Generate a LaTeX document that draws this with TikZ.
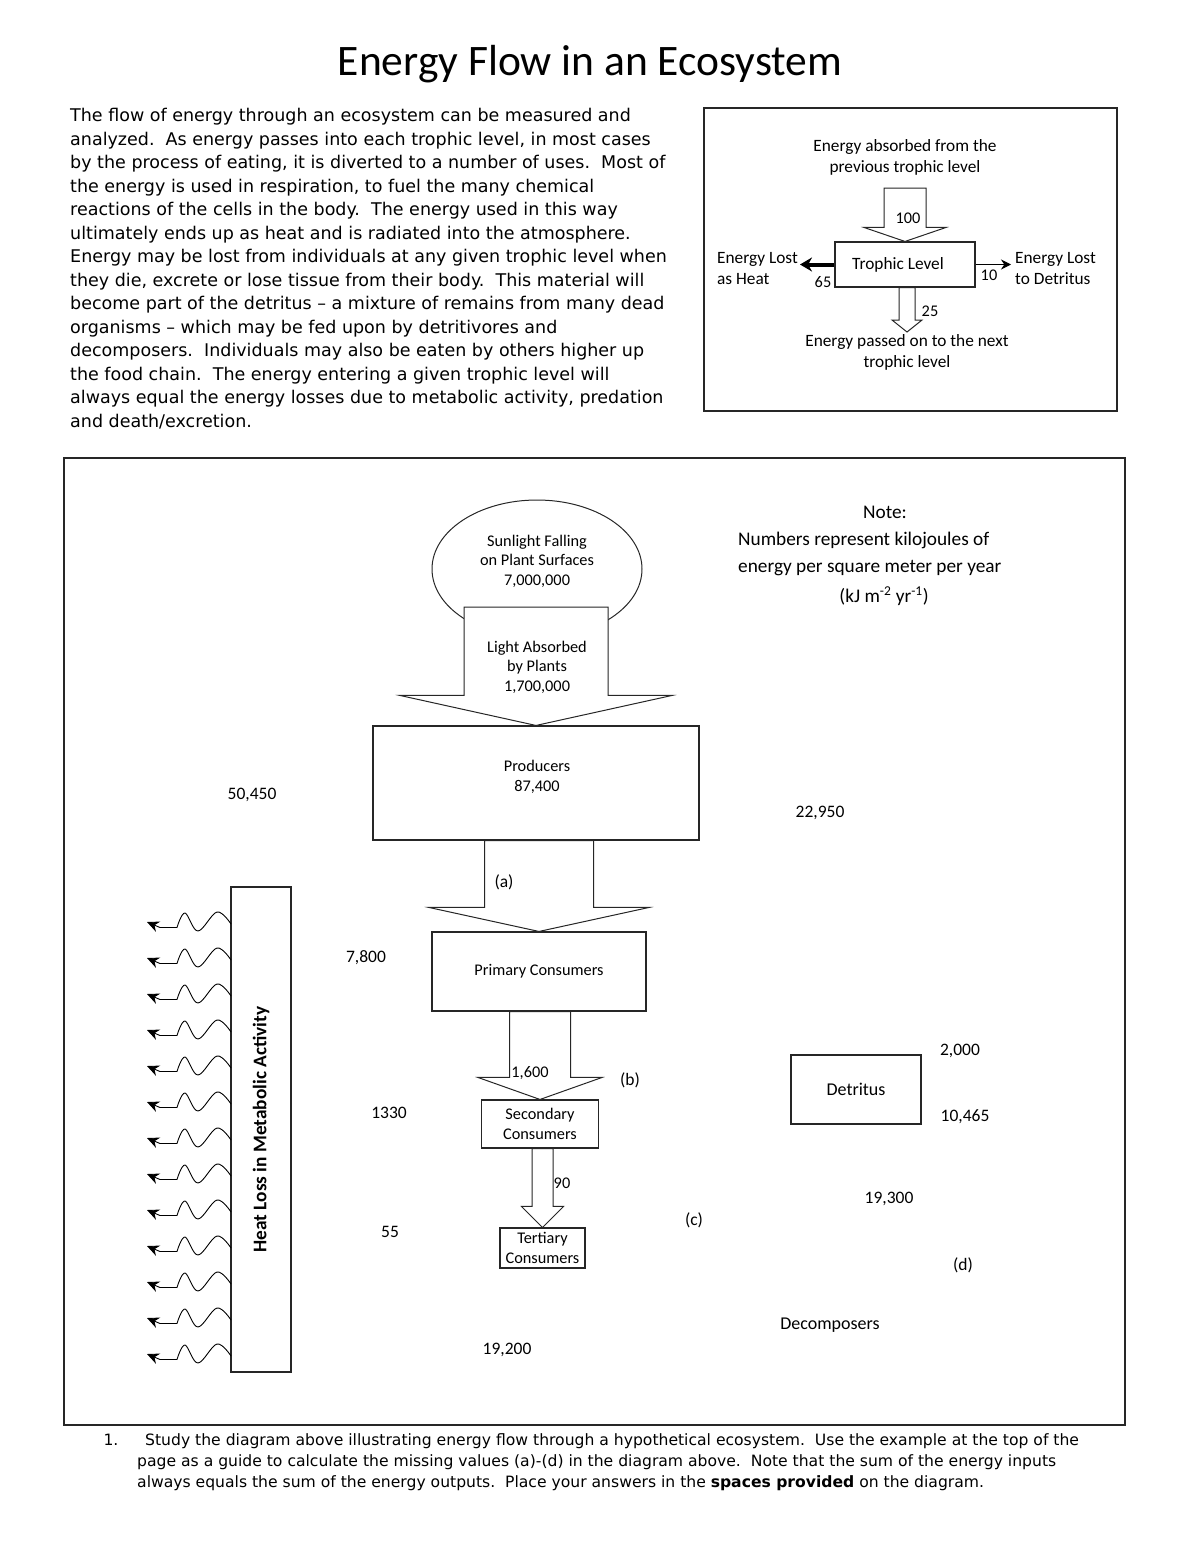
\documentclass[tikz,border=0pt]{standalone}
\usepackage{fontspec}
\setmainfont{Carlito}
\newfontfamily\versans{DejaVu Sans}
\usetikzlibrary{arrows.meta,calc,shapes.geometric}
\newcommand{\SetSize}[2]{\fontsize{#1}{#2}\selectfont}
\newcommand{\FlowArrow}[5]{%
  % #1 top point, #2 tip point, #3 half shaft, #4 half head, #5 head length
  \draw[flow] let \p1=(#1), \p2=(#2) in
    (\x2-#3,\y1) -- (\x2-#3,\y2+#5) -- (\x2-#4,\y2+#5) -- (\p2)
    -- (\x2+#4,\y2+#5) -- (\x2+#3,\y2+#5) -- (\x2+#3,\y1) -- cycle;
}

\begin{document}
\begin{tikzpicture}[
  x=1pt,y=-1pt,
  frame/.style={draw=black!85,line width=1.4pt,inner sep=0pt},
  box/.style={draw=black!85,line width=1.1pt,inner sep=0pt,align=center,font=\SetSize{16.3}{19.5}},
  lbl/.style={inner sep=0pt,align=center,font=\SetSize{16.3}{19.5}},
  exlbl/.style={inner sep=0pt,align=center,font=\SetSize{17.3}{21}},
  num/.style={inner sep=0pt,font=\SetSize{17.5}{20}},
  note/.style={inner sep=0pt,align=left,font=\SetSize{19.3}{27}},
  flow/.style={draw=black!85,line width=1pt,fill=white,line join=miter},
  wave/.style={line width=0.9pt},
  heatout/.style={line width=0.9pt,-{Stealth[length=12pt,width=11pt]}}
]
\useasboundingbox (0,0) rectangle (1200,1553);

% Title and introduction
\node[inner sep=0pt,font=\SetSize{43.5}{48}] (title) at (590,64) {Energy Flow in an Ecosystem};
\node[inner sep=0pt,anchor=north west,align=left,font=\versans\SetSize{17.5}{23.5}] (intro) at (70,108) {%
The flow of energy through an ecosystem can be measured and\\
analyzed.\ \ As energy passes into each trophic level, in most cases\\
by the process of eating, it is diverted to a number of uses.\ \ Most of\\
the energy is used in respiration, to fuel the many chemical\\
reactions of the cells in the body.\ \ The energy used in this way\\
ultimately ends up as heat and is radiated into the atmosphere.\\
Energy may be lost from individuals at any given trophic level when\\
they die, excrete or lose tissue from their body.\ \ This material will\\
become part of the detritus – a mixture of remains from many dead\\
organisms – which may be fed upon by detritivores and\\
decomposers.\ \ Individuals may also be eaten by others higher up\\
the food chain.\ \ The energy entering a given trophic level will\\
always equal the energy losses due to metabolic activity, predation\\
and death/excretion.};

% Example box
\node[frame,minimum width=413,minimum height=303] (example) at (910.5,259.5) {};
\node[exlbl] (absorbed) at (905,157) {Energy absorbed from the\\previous trophic level};
\node[box,minimum width=140,minimum height=45,font=\SetSize{17.3}{21}] (trophic) at (905,264.5) {Trophic Level\hspace{14pt}};
\coordinate (inTop) at (906,188);
\coordinate (heatTip) at (800,264.5);
\coordinate (detTip) at (1011,264.5);
\coordinate (passTip) at (907,332);
\FlowArrow{inTop}{trophic.north}{21}{41}{14}
\FlowArrow{trophic.south}{passTip}{8}{15}{12}
\draw[line width=4pt,-{Stealth[length=12pt,width=14pt]}] (trophic.west) -- (heatTip);
\draw[line width=1pt,-{Stealth[length=10pt,width=10pt]}] (trophic.east) -- (detTip);
\node[lbl] (in100) at (908,218) {100};
\node[exlbl,anchor=west,align=left] (lostHeat) at (717,269) {Energy Lost\\as Heat};
\node[lbl] (out65) at (823,282) {65};
\node[lbl] (out10) at (989,275) {10};
\node[exlbl,anchor=west,align=left] (lostDet) at (1015,269) {Energy Lost\\to Detritus};
\node[lbl] (out25) at (930,311) {25};
\node[exlbl] (passed) at (907,352) {Energy passed on to the next\\trophic level};

% Main diagram
\node[frame,minimum width=1061,minimum height=967] (diagram) at (594.5,941.5) {};
\node[ellipse,draw=black!85,line width=1pt,minimum width=210,minimum height=138] (sun) at (537,569) {};
\coordinate (lightTop) at (537,607);
\node[box,minimum width=326,minimum height=114] (prod) at (536,783) {};
\node[box,minimum width=214,minimum height=79] (prim) at (539,971.5) {Primary Consumers};
\node[box,minimum width=117,minimum height=48] (sec) at (540,1124) {Secondary\\Consumers};
\node[box,minimum width=85,minimum height=40] (ter) at (542.5,1248) {Tertiary\\Consumers};
\node[box,minimum width=130,minimum height=69,font=\SetSize{18}{20}] (det) at (856,1089.5) {Detritus};
\node[box,rotate=90,minimum width=485,minimum height=60,font=\bfseries\SetSize{19.3}{22}] (heat) at (261,1129.5) {Heat Loss in Metabolic Activity};

% Flow arrows
\FlowArrow{lightTop}{prod.north}{72}{136}{30}
\FlowArrow{prod.south}{prim.north}{54.5}{110}{24}
\FlowArrow{prim.south}{sec.north}{30.5}{62}{22}
\FlowArrow{sec.south}{ter.north}{10.5}{21}{21}

% Texts in the flow
\node[lbl] (sunText) at (537,561) {Sunlight Falling\\on Plant Surfaces\\7,000,000};
\node[lbl] (lightText) at (537,667) {Light Absorbed\\by Plants\\1,700,000};
\node[lbl] (prodText) at (537,777) {Producers\\87,400};
\node[num] (a) at (504,882) {(a)};
\node[lbl] (v1600) at (530,1073) {1,600};
\node[lbl] (v90) at (562,1183) {90};

% Numbers around the chain
\node[num] (v50450) at (252,795) {50,450};
\node[num] (v22950) at (820,813) {22,950};
\node[num] (v7800) at (366,958) {7,800};
\node[num] (v1330) at (389,1113) {1330};
\node[num] (v55) at (390,1232) {55};
\node[num] (v19200) at (507,1350) {19,200};
\node[num] (b) at (630,1080) {(b)};
\node[num] (c) at (694,1220) {(c)};
\node[num] (d) at (963,1265) {(d)};
\node[num] (v2000) at (960,1051) {2,000};
\node[num] (v10465) at (965,1117) {10,465};
\node[num] (v19300) at (889,1199) {19,300};
\node[num,font=\SetSize{18}{20}] (decomp) at (830,1325) {Decomposers};

% Note
\node[note] (noteHead) at (885,512) {Note:};
\node[note,anchor=west] (noteText) at (738,553.5) {Numbers represent kilojoules of\\energy per square meter per year};
\node[note] (noteUnit) at (884,596) {(kJ m\textsuperscript{-2} yr\textsuperscript{-1})};

% Heat radiating from the metabolic box
\foreach \k in {0,...,12}{%
  \pgfmathsetmacro{\wy}{924+36*\k}
  \draw[wave] plot[smooth,tension=0.6] coordinates {(231,\wy) (217,\wy-12) (198,\wy+7) (185,\wy-11) (177,\wy+3.5)} -- (160,\wy+3.5);
  \draw[heatout] (160,\wy+3.5) -- (147,\wy-2);
}

% Question
\node[inner sep=0pt,font=\versans\SetSize{15.6}{21}] (qnum) at (111,1440) {1.};
\node[inner sep=0pt,anchor=north west,align=left,font=\versans\SetSize{15.6}{21}] (question) at (137,1433) {%
\hspace*{8pt}Study the diagram above illustrating energy flow through a hypothetical ecosystem.\ \ Use the example at the top of the\\
page as a guide to calculate the missing values (a)-(d) in the diagram above.\ \ Note that the sum of the energy inputs\\
always equals the sum of the energy outputs.\ \ Place your answers in the \textbf{spaces provided} on the diagram.};

\end{tikzpicture}
\end{document}
